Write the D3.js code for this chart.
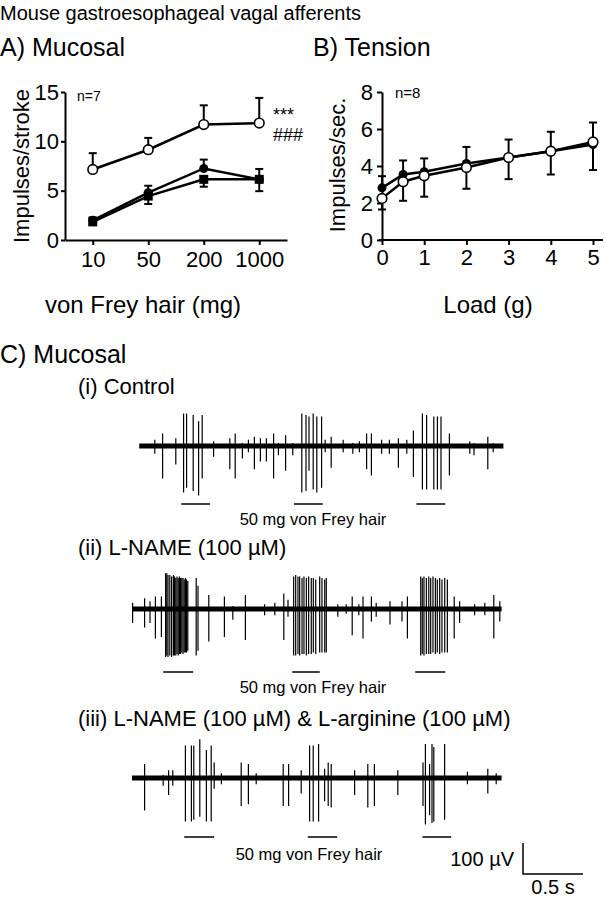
<!DOCTYPE html>
<html>
<head>
<meta charset="utf-8">
<script src="https://cdn.jsdelivr.net/npm/d3@7"></script>
<style>
  body { margin: 0; background: #fff; }
  svg { display: block; font-family: "Liberation Sans", Arial, Helvetica, sans-serif; }
</style>
</head>
<body>
<script>
// ---- A) Mucosal ----
const hairs = ['10', '50', '200', '1000'];
const mucOpen = [7.15, 9.15, 11.7, 11.85];
const mucOpenUp = [8.8, 10.35, 13.65, 14.4];
const mucFilled = [2.0, 4.8, 7.25, 6.15];
const mucFilledUp = [2.3, 5.5, 8.15, 7.2];
const mucSquare = [1.85, 4.45, 6.15, 6.15];
const mucSquareDown = [1.5, 3.65, 5.4, 4.95];
const mucTicks = [0, 5, 10, 15];

// ---- B) Tension ----
const loads = [0, 0.5, 1, 2, 3, 4, 5];
const tenFilled = [2.82, 3.54, 3.69, 4.14, 4.46, 4.8, 5.16];
const tenFilledUp = [3.45, 4.3, 4.41, 5.03, 5.43, 5.85, 6.35];
const tenOpen = [2.25, 3.15, 3.47, 3.92, 4.46, 4.8, 5.3];
const tenOpenDown = [1.65, 2.12, 2.34, 2.77, 3.29, 3.54, 3.78];
const tenTicks = [0, 2, 4, 6, 8];
const loadTicks = [0, 1, 2, 3, 4, 5];

// ---- C) traces: spikes are [time s, up µV, down µV] ----
const ctrlSpan = [0.06, 3.095];
const ctrlSpikes = [[0.19,20,25],[0.255,40,105],[0.365,25,60],[0.43,105,150],[0.455,105,135],[0.51,100,145],[0.555,80,160],[0.585,100,105],[0.68,15,35],[0.815,25,75],[0.86,40,105],[0.92,10,40],[0.97,20,20],[1.02,30,75],[1.07,25,50],[1.12,25,50],[1.18,40,105],[1.22,10,30],[1.28,35,80],[1.34,10,30],[1.415,105,150],[1.45,100,145],[1.475,95,80],[1.51,105,140],[1.54,95,150],[1.58,95,135],[1.61,20,20],[1.66,30,70],[1.76,20,20],[1.84,10,25],[1.895,15,20],[1.955,40,75],[1.995,40,95],[2.08,20,25],[2.145,20,25],[2.22,25,70],[2.29,20,25],[2.345,50,100],[2.42,105,140],[2.455,100,140],[2.515,95,140],[2.545,95,140],[2.575,95,140],[2.645,40,95],[2.815,15,25],[2.85,10,30],[2.965,30,75],[3.01,10,20]];
const ctrlStim = [[0.41, 0.65], [1.35, 1.59], [2.37, 2.61]];

const lnameSpan = [0, 3.08];
const lnameSpikes = [[0.005,20,45],[0.105,35,60],[0.15,25,45],[0.195,40,95],[0.245,40,90],
  [0.28,115,155],[0.29,115,150],[0.30,110,155],[0.315,110,150],[0.33,105,155],[0.345,110,150],[0.355,105,150],[0.365,100,150],[0.375,105,145],[0.385,100,150],[0.395,105,145],[0.405,100,145],[0.415,100,140],[0.425,100,145],[0.435,95,140],[0.445,100,140],[0.455,95,140],[0.465,90,135],
  [0.535,100,150],[0.55,75,135],[0.64,45,105],[0.77,40,90],[0.84,10,35],[0.945,45,100],[1.105,15,20],[1.19,20,20],[1.265,50,100],[1.3,30,25],
  [1.347,105,150],[1.364,110,150],[1.383,105,145],[1.397,105,150],[1.417,100,145],[1.433,105,145],[1.453,100,150],[1.472,105,145],[1.494,100,145],[1.511,100,140],[1.531,95,145],[1.564,105,140],[1.583,100,140],[1.606,95,140],[1.619,100,140],
  [1.715,15,25],[1.785,15,15],[1.835,40,85],[1.89,15,20],[1.925,40,95],[1.995,40,40],[2.035,20,25],[2.15,25,50],[2.25,25,40],[2.295,40,95],
  [2.406,105,150],[2.419,100,145],[2.433,105,150],[2.453,100,145],[2.473,105,145],[2.489,100,145],[2.508,105,140],[2.528,100,145],[2.544,95,140],[2.564,100,145],[2.583,95,140],[2.606,100,140],[2.628,95,140],
  [2.685,40,95],[2.73,25,45],[2.855,15,20],[2.94,20,20],[3.015,45,95],[3.065,25,40]];
const lnameStim = [[0.26, 0.51], [1.335, 1.565], [2.36, 2.61]];

const argSpan = [0, 3.08];
const argSpikes = [[0.105,45,105],[0.26,10,25],[0.305,25,55],[0.34,25,25],[0.445,105,140],[0.495,105,140],[0.515,105,135],[0.565,125,125],[0.62,90,140],[0.66,105,140],[0.685,50,35],[0.745,15,20],[0.91,50,90],[0.97,45,85],[1.035,15,20],[1.26,45,90],[1.305,45,90],[1.41,25,50],[1.48,105,140],[1.51,105,140],[1.555,110,140],[1.605,30,75],[1.635,50,90],[1.66,45,95],[1.855,25,55],[1.965,45,95],[2.02,45,90],[2.215,25,55],[2.425,50,90],[2.445,110,150],[2.48,45,120],[2.5,110,145],[2.515,100,140],[2.605,110,135],[2.795,20,20],[2.965,30,50],[3.035,15,20]];
const argStim = [[0.435, 0.685], [1.465, 1.71], [2.42, 2.66]];

const W = 606, H = 899;
const svg = d3.select('body').append('svg').attr('width', W).attr('height', H);

function txt(x, y, s, size, anchor) {
  return svg.append('text').attr('x', x).attr('y', y).attr('font-size', size)
    .attr('text-anchor', anchor || 'start').text(s);
}

txt(0, 20, 'Mouse gastroesophageal vagal afferents', 20);
txt(0, 56, 'A) Mucosal', 25);
txt(313, 56, 'B) Tension', 25);
txt(0, 363, 'C) Mucosal', 25);

function styleAxis(g, size) {
  g.selectAll('path.domain').attr('stroke-width', 2);
  g.selectAll('.tick line').attr('stroke-width', 2);
  g.selectAll('.tick text').attr('font-size', size).attr('fill', '#000')
    .style('font-family', '"Liberation Sans", Arial, sans-serif');
}

function errBars(g, xs, ys, es, cap) {
  xs.forEach((x, i) => {
    g.append('line').attr('x1', x).attr('x2', x).attr('y1', ys[i]).attr('y2', es[i])
      .attr('stroke', '#000').attr('stroke-width', 2);
    g.append('line').attr('x1', x - cap).attr('x2', x + cap).attr('y1', es[i]).attr('y2', es[i])
      .attr('stroke', '#000').attr('stroke-width', 2);
  });
}

// ---------- panel A ----------
const xA = d3.scalePoint().domain(hairs).range([65, 287]).padding(0.5);
const yA = d3.scaleLinear().domain([0, 15]).range([240, 92]);

const gA = svg.append('g');
const axA = gA.append('g').attr('transform', 'translate(0,240)')
  .call(d3.axisBottom(xA).tickSize(5).tickSizeOuter(0).tickPadding(6));
styleAxis(axA, 22);
const ayA = gA.append('g').attr('transform', 'translate(65,0)')
  .call(d3.axisLeft(yA).tickValues(mucTicks).tickSize(4).tickSizeOuter(0).tickPadding(2));
styleAxis(ayA, 22);

const lineA = d3.line().x((d, i) => xA(hairs[i])).y(d => yA(d));
[mucOpen, mucFilled, mucSquare].forEach(s => {
  gA.append('path').attr('d', lineA(s)).attr('fill', 'none').attr('stroke', '#000').attr('stroke-width', 2.5);
});
const xsA = hairs.map(h => xA(h));
errBars(gA, xsA, mucOpen.map(yA), mucOpenUp.map(yA), 4);
errBars(gA, xsA, mucFilled.map(yA), mucFilledUp.map(yA), 4);
errBars(gA, xsA, mucSquare.map(yA), mucSquareDown.map(yA), 4);

gA.selectAll('rect.sq').data(mucSquare).enter().append('rect')
  .attr('x', (d, i) => xsA[i] - 4.5).attr('y', d => yA(d) - 4.5)
  .attr('width', 9).attr('height', 9).attr('fill', '#000');
gA.selectAll('circle.fc').data(mucFilled).enter().append('circle')
  .attr('cx', (d, i) => xsA[i]).attr('cy', d => yA(d)).attr('r', 4.5).attr('fill', '#000');
gA.selectAll('circle.oc').data(mucOpen).enter().append('circle')
  .attr('cx', (d, i) => xsA[i]).attr('cy', d => yA(d)).attr('r', 4.8)
  .attr('fill', '#fff').attr('stroke', '#000').attr('stroke-width', 1.6);

txt(77, 101, 'n=7', 14);
txt(273, 121, '***', 18);
txt(273, 141, '###', 18);
svg.append('text').attr('transform', 'translate(29,166) rotate(-90)')
  .attr('text-anchor', 'middle').attr('font-size', 22).text('Impulses/stroke');
txt(143, 313, 'von Frey hair (mg)', 24, 'middle');

// ---------- panel B ----------
const xB = d3.scaleLinear().domain([0, 5]).range([382, 593]);
const yB = d3.scaleLinear().domain([0, 8]).range([240, 92]);

const gB = svg.append('g');
const axB = gB.append('g').attr('transform', 'translate(0,240)')
  .call(d3.axisBottom(xB).tickValues(loadTicks).tickFormat(d3.format('d')).tickSize(5).tickSizeOuter(0).tickPadding(4));
styleAxis(axB, 22);
axB.select('path.domain').remove();
gB.append('line').attr('x1', 379).attr('x2', 603).attr('y1', 240).attr('y2', 240)
  .attr('stroke', '#000').attr('stroke-width', 2);
const ayB = gB.append('g').attr('transform', 'translate(382,0)')
  .call(d3.axisLeft(yB).tickValues(tenTicks).tickSize(5).tickSizeOuter(0).tickPadding(4));
styleAxis(ayB, 22);

const lineB = d3.line().x((d, i) => xB(loads[i])).y(d => yB(d));
[tenFilled, tenOpen].forEach(s => {
  gB.append('path').attr('d', lineB(s)).attr('fill', 'none').attr('stroke', '#000').attr('stroke-width', 2.5);
});
const xsB = loads.map(xB);
errBars(gB, xsB, tenFilled.map(yB), tenFilledUp.map(yB), 4);
errBars(gB, xsB, tenOpen.map(yB), tenOpenDown.map(yB), 4);
gB.selectAll('circle.fc').data(tenFilled).enter().append('circle')
  .attr('cx', (d, i) => xsB[i]).attr('cy', d => yB(d)).attr('r', 4.5).attr('fill', '#000');
gB.selectAll('circle.oc').data(tenOpen).enter().append('circle')
  .attr('cx', (d, i) => xsB[i]).attr('cy', d => yB(d)).attr('r', 4.8)
  .attr('fill', '#fff').attr('stroke', '#000').attr('stroke-width', 1.6);

txt(395, 98, 'n=8', 15);
svg.append('text').attr('transform', 'translate(345,165) rotate(-90)')
  .attr('text-anchor', 'middle').attr('font-size', 22).text('Impulses/sec.');
txt(488, 313, 'Load (g)', 24, 'middle');

// ---------- panel C: traces ----------
const tx = d3.scaleLinear().domain([0, 3.1]).range([132, 504]);
const amp = d3.scaleLinear().domain([0, 100]).range([0, 31]);

function drawTrace(span, spikes, stim, baseY, stimY, labelY, labelX) {
  const g = svg.append('g').attr('transform', 'translate(0,' + baseY + ')');
  g.append('line').attr('x1', tx(span[0])).attr('x2', tx(span[1]))
    .attr('y1', 0).attr('y2', 0).attr('stroke', '#000').attr('stroke-width', 5);
  g.selectAll('line.sp').data(spikes).enter().append('line')
    .attr('x1', d => tx(d[0])).attr('x2', d => tx(d[0]))
    .attr('y1', d => -amp(d[1])).attr('y2', d => amp(d[2]))
    .attr('stroke', '#000').attr('stroke-width', 1.2);
  svg.selectAll(null).data(stim).enter().append('line')
    .attr('x1', d => tx(d[0])).attr('x2', d => tx(d[1]))
    .attr('y1', stimY).attr('y2', stimY).attr('stroke', '#000').attr('stroke-width', 1.5);
  txt(labelX, labelY, '50 mg von Frey hair', 16.5, 'middle');
}

txt(78, 394, '(i) Control', 22);
drawTrace(ctrlSpan, ctrlSpikes, ctrlStim, 446, 504, 525, 313);
txt(78, 555, '(ii) L-NAME (100 µM)', 22);
drawTrace(lnameSpan, lnameSpikes, lnameStim, 609, 672, 693, 313);
txt(78, 726, '(iii) L-NAME (100 µM) & L-arginine (100 µM)', 22);
drawTrace(argSpan, argSpikes, argStim, 778, 837, 860, 309);

// scale bar: 100 µV and 0.5 s
const sbX = 523, sbY = 874;
svg.append('path')
  .attr('d', 'M' + sbX + ',' + (sbY - amp(100)) + 'V' + sbY + 'H' + (sbX + tx(0.5) - tx(0)))
  .attr('fill', 'none').attr('stroke', '#000').attr('stroke-width', 1.5);
txt(514, 866, '100 µV', 20, 'end');
txt(553, 894, '0.5 s', 20, 'middle');
</script>
</body>
</html>
